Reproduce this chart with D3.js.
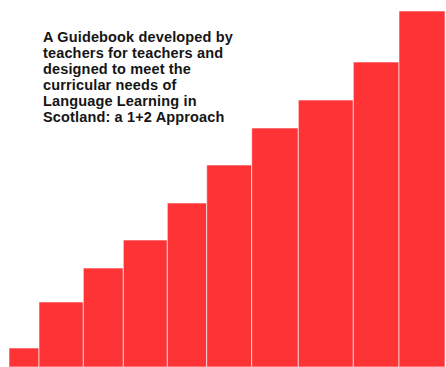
<!DOCTYPE html>
<html>
<head>
<meta charset="utf-8">
<script src="https://cdn.jsdelivr.net/npm/d3@7"></script>
<style>
  html, body { margin: 0; padding: 0; background: #fff; }
  svg { display: block; }
</style>
</head>
<body>
<svg id="chart" width="446" height="367"></svg>
<script>
// Histogram-like bins: left/right edges (arbitrary units) and heights
const binEdges = [0, 30, 74.3, 114.3, 158.3, 197.7, 242.7, 289.3, 344.3, 390, 436];
const values = [19, 65, 99, 127, 164, 202, 239, 267, 305, 356];
const titleLines = [
  "A Guidebook developed by",
  "teachers for teachers and",
  "designed to meet the",
  "curricular needs of",
  "Language Learning in",
  "Scotland: a 1+2 Approach"
];

const W = 446, H = 367;
const svg = d3.select("#chart");

const x = d3.scaleLinear().domain([0, 436]).range([9, 445]);
const y = d3.scaleLinear().domain([0, 356]).range([H, 11]);

const bins = values.map((v, i) => ({ x0: binEdges[i], x1: binEdges[i + 1], v }));

svg.append("g").selectAll("rect")
  .data(bins)
  .join("rect")
  .attr("x", d => x(d.x0))
  .attr("y", d => y(d.v))
  .attr("width", d => x(d.x1) - x(d.x0))
  .attr("height", d => y(0) - y(d.v))
  .attr("fill", "#fe3336")
  .attr("stroke", "#fff")
  .attr("stroke-opacity", 0.6)
  .attr("stroke-width", 1);

const t = svg.append("text")
  .attr("x", 43)
  .attr("y", 41.5)
  .attr("font-family", "Liberation Sans, Arial, Helvetica, sans-serif")
  .attr("font-weight", "bold")
  .attr("font-size", 14.5)
  .attr("letter-spacing", 0.15)
  .attr("fill", "#151515");

t.selectAll("tspan")
  .data(titleLines)
  .join("tspan")
  .attr("x", 43)
  .attr("dy", (d, i) => i === 0 ? 0 : 16)
  .text(d => d);
</script>
</body>
</html>
